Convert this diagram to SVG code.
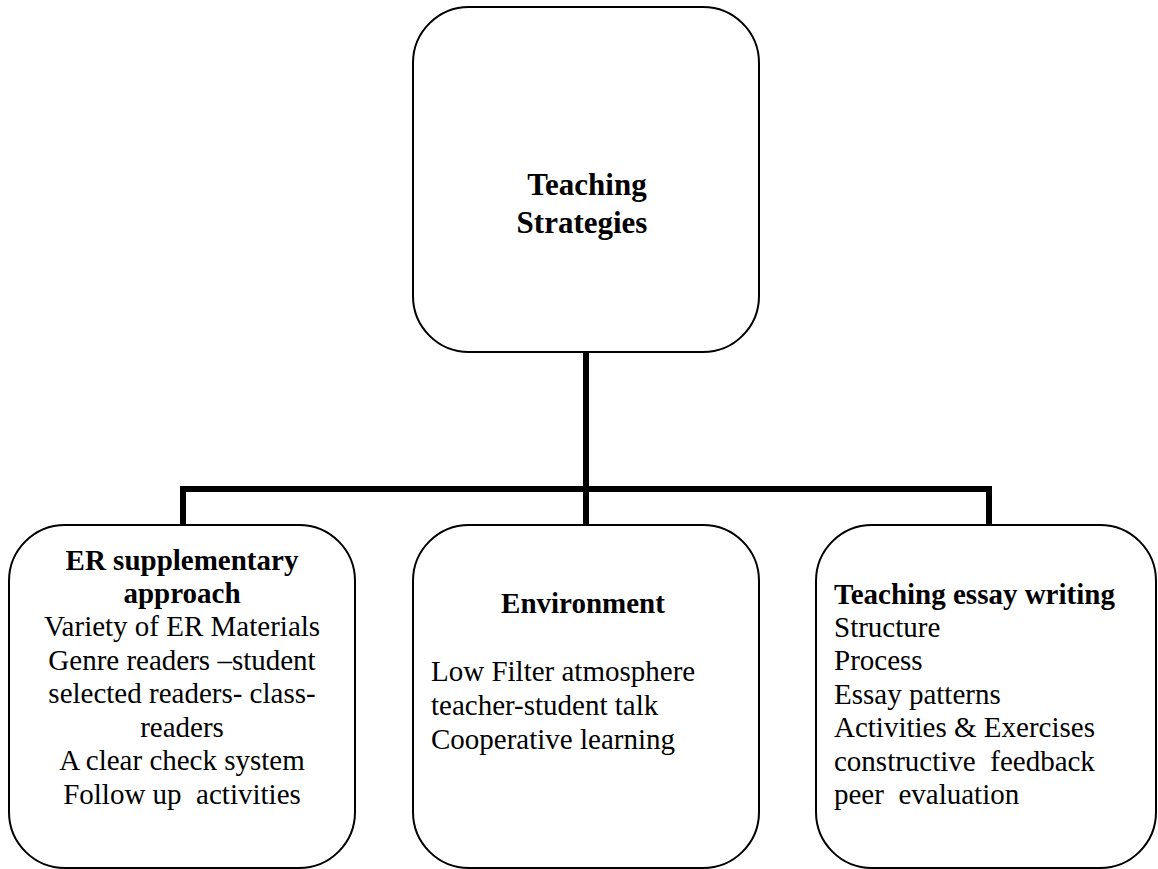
<svg xmlns="http://www.w3.org/2000/svg" width="1158" height="869" viewBox="0 0 1158 869">
<style>
.box{fill:#fff;stroke:#000;stroke-width:2}
.con{fill:none;stroke:#000;stroke-width:6}
text{font-family:"Liberation Serif","Times New Roman",serif;fill:#000}
.t{font-size:29px}
.b{font-weight:bold}
.title{font-size:31px;font-weight:bold}
</style>
<rect width="1158" height="869" fill="#fff"/>
<g id="connectors">
<line class="con" x1="586" y1="352" x2="586" y2="525"/>
<polyline class="con" points="183,525 183,489 989,489 989,525"/>
</g>
<g id="root">
<rect class="box" x="413" y="7" width="346" height="345" rx="56" ry="56"/>
<text class="title" x="587" y="195" text-anchor="middle">Teaching</text>
<text class="title" x="582" y="233" text-anchor="middle">Strategies</text>
</g>
<g id="er">
<rect class="box" x="9" y="525" width="346" height="343" rx="56" ry="56"/>
<text class="t" x="182" text-anchor="middle" xml:space="preserve"><tspan class="b" x="182" y="570">ER supplementary</tspan><tspan class="b" x="182" y="603">approach</tspan><tspan x="182" y="636">Variety of ER Materials</tspan><tspan x="182" y="670">Genre readers –student</tspan><tspan x="182" y="703">selected readers- class-</tspan><tspan x="182" y="737">readers</tspan><tspan x="182" y="770">A clear check system</tspan><tspan x="182" y="804">Follow up  activities</tspan></text>
</g>
<g id="environment">
<rect class="box" x="413" y="525" width="346" height="343" rx="56" ry="56"/>
<text class="t b" x="583" y="613" text-anchor="middle">Environment</text>
<text class="t" x="431"><tspan x="431" y="681">Low Filter atmosphere</tspan><tspan x="431" y="715">teacher-student talk</tspan><tspan x="431" y="749">Cooperative learning</tspan></text>
</g>
<g id="essay">
<rect class="box" x="816" y="525" width="340" height="343" rx="56" ry="56"/>
<text class="t" x="834" xml:space="preserve"><tspan class="b" x="834" y="604">Teaching essay writing</tspan><tspan x="834" y="637">Structure</tspan><tspan x="834" y="670">Process</tspan><tspan x="834" y="704">Essay patterns</tspan><tspan x="834" y="737">Activities &amp; Exercises</tspan><tspan x="834" y="771">constructive  feedback</tspan><tspan x="834" y="804">peer  evaluation</tspan></text>
</g>
</svg>
